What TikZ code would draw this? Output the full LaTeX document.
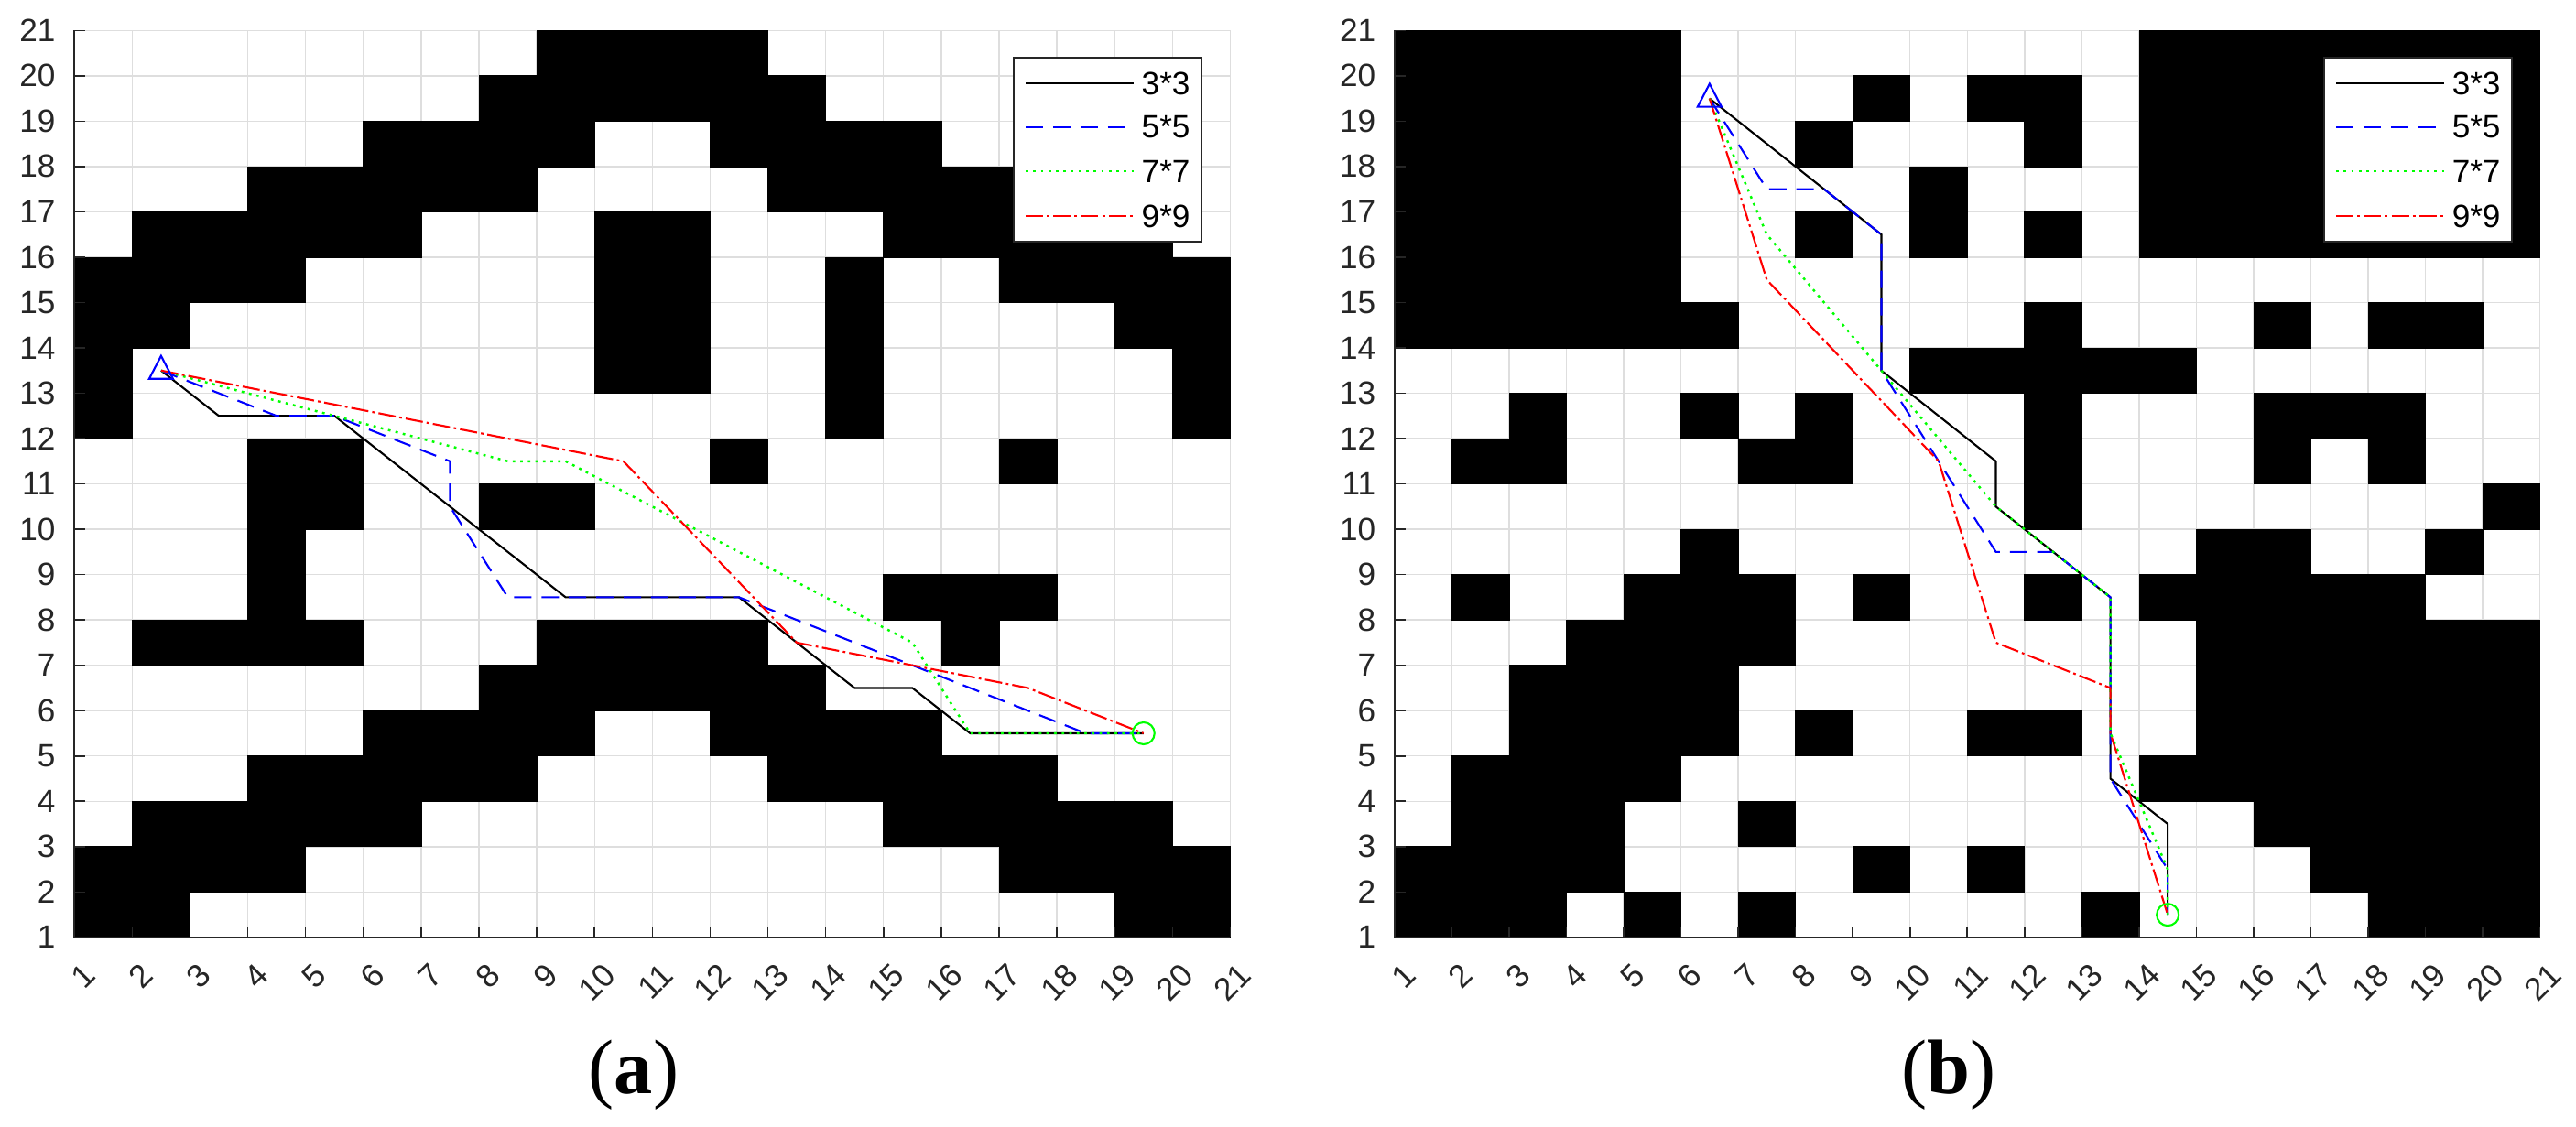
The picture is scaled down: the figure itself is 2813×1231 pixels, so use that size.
\documentclass[tikz,border=0pt]{standalone}
\usepackage{fontspec}
\setmainfont{Liberation Sans}
\newfontfamily\capfont{Liberation Serif}
\definecolor{axgray}{HTML}{262626}
\definecolor{gridgray}{HTML}{DEDEDE}
\definecolor{pblue}{RGB}{0,0,255}
\definecolor{pgreen}{RGB}{0,255,0}
\definecolor{pred}{RGB}{255,0,0}
\tikzset{
  gridline/.style={gridgray, line width=0.4pt},
  cellfill/.style={fill=black, draw=black, line width=0.2pt},
  axisline/.style={axgray, line width=0.45pt},
  path33/.style={black, line width=0.6pt},
  path55/.style={pblue, line width=0.6pt, dash pattern=on 5.4pt off 3.1pt},
  path77/.style={pgreen, line width=0.7pt, dash pattern=on 0.8pt off 1.55pt},
  path99/.style={pred, line width=0.6pt, dash pattern=on 5.4pt off 1.2pt on 0.8pt off 1.2pt},
  ticklab/.style={text=axgray, font=\fontsize{10}{12}\selectfont, inner sep=0pt},
  legbox/.style={draw=axgray, fill=white, line width=0.45pt},
  legtext/.style={text=black, font=\fontsize{10}{12}\selectfont, inner sep=0pt, anchor=west},
  startmark/.style={pblue, line width=0.6pt},
  endmark/.style={pgreen, line width=0.6pt},
  captext/.style={font=\capfont\fontsize{24}{28}\selectfont, inner sep=0pt},
}
\begin{document}
\begin{tikzpicture}[x=0.01cm,y=0.01cm]
\useasboundingbox (0,0) rectangle (2813,1231);
\fill[white] (0,0) rectangle (2813,1231);

% ---------------- panel (a) ----------------
\begin{scope}[shift={(0.1813cm,1.575cm)}, x=0.6307cm, y=0.495cm]
  \foreach \g in {1,...,21} {
    \draw[gridline] (\g,1) -- (\g,21);
    \draw[gridline] (1,\g) -- (21,\g);
  }
  \foreach \j/\cs in {20/{9,10,11,12}, 19/{8,9,10,11,12,13}, 18/{6,7,8,9,12,13,14,15},
     17/{4,5,6,7,8,13,14,15,16,17,18,19}, 16/{2,3,4,5,6,10,11,15,16,17,18,19},
     15/{1,2,3,4,10,11,14,17,18,19,20}, 14/{1,2,10,11,14,19,20}, 13/{1,10,11,14,20},
     12/{1,14,20}, 11/{4,5,12,17}, 10/{4,5,8,9}, 9/{4}, 8/{4,15,16,17},
     7/{2,3,4,5,9,10,11,12,16}, 6/{8,9,10,11,12,13}, 5/{6,7,8,9,12,13,14,15},
     4/{4,5,6,7,8,13,14,15,16,17}, 3/{2,3,4,5,6,15,16,17,18,19},
     2/{1,2,3,4,17,18,19,20}, 1/{1,2,19,20}} {
    \foreach \i in \cs { \fill[cellfill] (\i,\j) rectangle ++(1,1); }
  }
  \coordinate (sa) at (2.5,13.5);
  \coordinate (ea) at (19.5,5.5);
  \draw[path33] (sa) -- (3.5,12.5) -- (5.5,12.5) -- (9.5,8.5) -- (12.5,8.5) -- (14.5,6.5) -- (15.5,6.5) -- (16.5,5.5) -- (ea);
  \draw[path55] (sa) -- (4.5,12.5) -- (5.5,12.5) -- (7.5,11.5) -- (7.5,10.5) -- (8.5,8.5) -- (12.5,8.5) -- (18.5,5.5) -- (ea);
  \draw[path77] (sa) -- (5.5,12.5) -- (8.5,11.5) -- (9.5,11.5) -- (15.5,7.5) -- (16.5,5.5) -- (ea);
  \draw[path99] (sa) -- (10.5,11.5) -- (13.5,7.5) -- (17.5,6.5) -- (ea);
  \draw[startmark] ([yshift=0.16cm]sa) -- ++(-0.13cm,-0.25cm) -- ++(0.26cm,0) -- cycle;
  \draw[endmark] (ea) circle[radius=0.12cm];
  \draw[axisline] (1,21) -- (1,1) -- (21,1);
  \foreach \g in {1,...,21} {
    \draw[axisline] (\g,1) -- ++(0,0.12cm);
    \draw[axisline] (1,\g) -- ++(0.12cm,0);
    \node[ticklab, anchor=east] (ya\g) at ([xshift=-0.2cm]1,\g) {\g};
    \node[ticklab, anchor=east, rotate=45] (xa\g) at ([xshift=0.17cm,yshift=-0.35cm]\g,1) {\g};
  }
\end{scope}

% ---------------- panel (b) ----------------
\begin{scope}[shift={(14.595cm,1.575cm)}, x=0.625cm, y=0.495cm]
  \foreach \g in {1,...,21} {
    \draw[gridline] (\g,1) -- (\g,21);
    \draw[gridline] (1,\g) -- (21,\g);
  }
  \foreach \j/\cs in {20/{1,2,3,4,5,14,15,16,17,18,19,20}, 19/{1,2,3,4,5,9,11,12,14,15,16,17,18,19,20},
     18/{1,2,3,4,5,8,12,14,15,16,17,18,19,20}, 17/{1,2,3,4,5,10,14,15,16,17,18,19,20},
     16/{1,2,3,4,5,8,10,12,14,15,16,17,18,19,20}, 15/{1,2,3,4,5},
     14/{1,2,3,4,5,6,12,16,18,19}, 13/{10,11,12,13,14}, 12/{3,6,8,12,16,17,18},
     11/{2,3,7,8,12,16,18}, 10/{12,20}, 9/{6,15,16,19}, 8/{2,5,6,7,9,12,14,15,16,17,18},
     7/{4,5,6,7,15,16,17,18,19,20}, 6/{3,4,5,6,15,16,17,18,19,20},
     5/{3,4,5,6,8,11,12,15,16,17,18,19,20}, 4/{2,3,4,5,14,15,16,17,18,19,20},
     3/{2,3,4,7,16,17,18,19,20}, 2/{1,2,3,4,9,11,17,18,19,20}, 1/{1,2,3,5,7,13,18,19,20}} {
    \foreach \i in \cs { \fill[cellfill] (\i,\j) rectangle ++(1,1); }
  }
  \coordinate (sb) at (6.5,19.5);
  \coordinate (eb) at (14.5,1.5);
  \draw[path33] (sb) -- (9.5,16.5) -- (9.5,13.5) -- (11.5,11.5) -- (11.5,10.5) -- (13.5,8.5) -- (13.5,4.5) -- (14.5,3.5) -- (eb);
  \draw[path55] (sb) -- (7.5,17.5) -- (8.5,17.5) -- (9.5,16.5) -- (9.5,13.5) -- (11.5,9.5) -- (12.5,9.5) -- (13.5,8.5) -- (13.5,4.5) -- (14.5,2.5) -- (eb);
  \draw[path77] (sb) -- (7.5,16.5) -- (9.5,13.5) -- (11.5,10.5) -- (13.5,8.5) -- (13.5,5.5) -- (14.5,2.5) -- (eb);
  \draw[path99] (sb) -- (7.5,15.5) -- (10.5,11.5) -- (11.5,7.5) -- (13.5,6.5) -- (13.5,5.5) -- (eb);
  \draw[startmark] ([yshift=0.16cm]sb) -- ++(-0.13cm,-0.25cm) -- ++(0.26cm,0) -- cycle;
  \draw[endmark] (eb) circle[radius=0.12cm];
  \draw[axisline] (1,21) -- (1,1) -- (21,1);
  \foreach \g in {1,...,21} {
    \draw[axisline] (\g,1) -- ++(0,0.12cm);
    \draw[axisline] (1,\g) -- ++(0.12cm,0);
    \node[ticklab, anchor=east] (yb\g) at ([xshift=-0.2cm]1,\g) {\g};
    \node[ticklab, anchor=east, rotate=45] (xb\g) at ([xshift=0.17cm,yshift=-0.35cm]\g,1) {\g};
  }
\end{scope}

% ---------------- legends ----------------
\foreach \p/\dx in {a/0, b/1431} {
  \begin{scope}[xshift=\dx*0.01cm]
    \draw[legbox] (1107,967) rectangle (1312,1168);
    \draw[path33] (1120,1140) -- (1238,1140);
    \draw[path55] (1120,1092) -- (1238,1092);
    \draw[path77] (1120,1044) -- (1238,1044);
    \draw[path99] (1120,995) -- (1238,995);
    \node[legtext] (l3\p) at (1246,1140) {3*3};
    \node[legtext] (l5\p) at (1246,1092) {5*5};
    \node[legtext] (l7\p) at (1246,1044) {7*7};
    \node[legtext] (l9\p) at (1246,995) {9*9};
  \end{scope}
}

% ---------------- captions ----------------
\node[captext] (capa) at (692,57) {(\textbf{a})};
\node[captext] (capb) at (2128,57) {(\textbf{b})};
\end{tikzpicture}
\end{document}
